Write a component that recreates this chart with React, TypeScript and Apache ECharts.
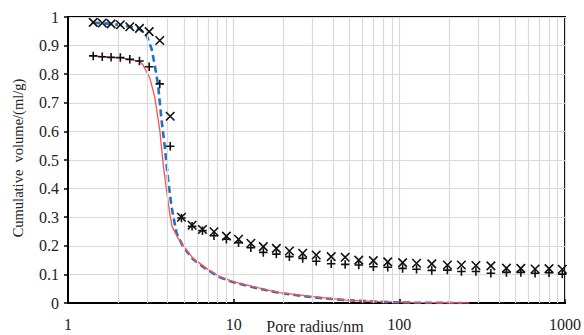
import React, { useEffect, useRef } from "react";
import * as echarts from "echarts";

// Pore radius (nm) at which the measured points were taken
const radii = [1.42, 1.61, 1.82, 2.07, 2.36, 2.70, 3.09, 3.58, 4.14, 4.84, 5.61, 6.48, 7.61, 9.04, 10.7, 12.7, 15.1, 18.1, 21.7, 26.1, 31.5, 38.8, 47.1, 56.9, 69.7, 85.1, 104.7, 127, 157, 195, 237, 290, 357, 443, 541, 660, 801, 963];
// "×" markers
const crossValues = [0.981, 0.979, 0.976, 0.973, 0.966, 0.960, 0.949, 0.918, 0.653, 0.300, 0.272, 0.257, 0.249, 0.234, 0.223, 0.209, 0.197, 0.191, 0.182, 0.174, 0.168, 0.162, 0.160, 0.150, 0.148, 0.144, 0.141, 0.139, 0.137, 0.133, 0.133, 0.131, 0.130, 0.122, 0.121, 0.119, 0.120, 0.118];
// "+" markers
const plusValues = [0.864, 0.861, 0.859, 0.858, 0.852, 0.846, 0.826, 0.766, 0.548, 0.297, 0.268, 0.253, 0.235, 0.223, 0.211, 0.193, 0.177, 0.171, 0.162, 0.156, 0.146, 0.137, 0.135, 0.133, 0.127, 0.125, 0.121, 0.118, 0.114, 0.115, 0.110, 0.110, 0.104, 0.107, 0.107, 0.104, 0.106, 0.101];

// Blue dashed curve
const blueX = [1.42, 1.61, 1.82, 2.07, 2.36, 2.70, 2.98, 3.19, 3.34, 3.50, 3.67, 3.84, 4.02, 4.21, 4.33, 4.52, 4.95, 5.69, 6.85, 8.24, 9.9, 13.1, 18.9, 30.0, 47.7, 75.8, 120, 240];
const blueY = [0.980, 0.978, 0.976, 0.972, 0.966, 0.958, 0.937, 0.890, 0.832, 0.760, 0.640, 0.547, 0.430, 0.340, 0.300, 0.245, 0.197, 0.153, 0.118, 0.090, 0.073, 0.055, 0.035, 0.020, 0.010, 0.004, 0.001, 0.0];

// Red solid curve
const redX = [1.42, 1.62, 1.83, 2.08, 2.36, 2.71, 2.84, 3.12, 3.34, 3.58, 3.75, 3.93, 4.11, 4.25, 4.62, 5.19, 5.69, 6.85, 8.24, 9.9, 13.1, 18.9, 30.0, 47.7, 75.8, 120, 264];
const redY = [0.864, 0.861, 0.859, 0.857, 0.852, 0.845, 0.832, 0.786, 0.720, 0.605, 0.488, 0.395, 0.314, 0.267, 0.226, 0.185, 0.156, 0.121, 0.092, 0.075, 0.057, 0.036, 0.022, 0.010, 0.005, 0.002, 0.0];

// Minor vertical grid positions on the log axis
const minorGrid = [2, 3, 4, 5, 6, 7, 8, 9, 20, 30, 40, 50, 60, 70, 80, 90, 200, 300, 400, 500, 600, 700, 800, 900];

const FONT = "'Liberation Serif', 'Times New Roman', 'DejaVu Serif', serif";

export default function App() {
  const ref = useRef<HTMLDivElement>(null);
  useEffect(() => {
    if (!ref.current) return;
    const chart = echarts.init(ref.current, null, { renderer: "svg" });
    const zip = (xs: number[], ys: number[]) => xs.map((x, i) => [x, ys[i]]);
    chart.setOption({
      animation: false,
      backgroundColor: "#fff",
      textStyle: { fontFamily: FONT },
      grid: {
        left: 68,
        right: 19,
        top: 17,
        bottom: 32,
        show: true,
        borderColor: "#000",
        borderWidth: 2,
        backgroundColor: "transparent",
      },
      xAxis: {
        type: "log",
        logBase: 10,
        min: 1,
        max: 1000,
        axisLine: { show: true, lineStyle: { color: "#000", width: 2 } },
        axisTick: { show: true, inside: true, length: 4, lineStyle: { color: "#000", width: 1.5 } },
        axisLabel: {
          color: "#222",
          fontFamily: FONT,
          fontSize: 16,
          margin: 13,
          formatter: (v: number) => String(Math.round(v)),
        },
        splitLine: { show: true, lineStyle: { color: "#d9d9d9", width: 1.2 } },
      },
      yAxis: {
        type: "value",
        min: 0,
        max: 1,
        interval: 0.1,
        axisLine: { show: true, lineStyle: { color: "#000", width: 2 } },
        axisTick: { show: true, inside: false, length: 4, lineStyle: { color: "#000", width: 1.5 } },
        axisLabel: {
          color: "#222",
          fontFamily: FONT,
          fontSize: 16,
          margin: 9,
          formatter: (v: number) => String(Math.round(v * 10) / 10),
        },
        splitLine: { show: true, lineStyle: { color: "#d9d9d9", width: 1.2 } },
      },
      graphic: [
        {
          type: "text",
          x: 18,
          y: 158,
          rotation: Math.PI / 2,
          style: {
            text: "Cumulative  volume/(ml/g)",
            fontFamily: FONT,
            fontSize: 14.5,
            fill: "#222",
            align: "center",
            verticalAlign: "middle",
          },
        },
        {
          type: "text",
          x: 315,
          y: 326,
          style: {
            text: "Pore radius/nm",
            fontFamily: FONT,
            fontSize: 16,
            fill: "#222",
            align: "center",
            verticalAlign: "middle",
          },
        },
      ],
      series: [
        {
          type: "scatter",
          data: [],
          silent: true,
          z: 1,
          markLine: {
            silent: true,
            symbol: ["none", "none"],
            label: { show: false },
            lineStyle: { color: "#d9d9d9", width: 1.2, type: "solid" },
            data: minorGrid.map((v) => ({ xAxis: v })),
          },
        },
        {
          type: "line",
          data: zip(blueX, blueY),
          showSymbol: false,
          symbol: "none",
          z: 3,
          lineStyle: { color: "#1f6fc5", width: 2.6, type: [7, 4] },
        },
        {
          type: "line",
          data: zip(redX, redY),
          showSymbol: false,
          symbol: "none",
          z: 4,
          lineStyle: { color: "#ff4f4f", width: 1.3 },
        },
        {
          type: "scatter",
          data: zip(radii, crossValues),
          symbol: "path://M0,0L10,10M10,0L0,10",
          symbolSize: 8.5,
          z: 5,
          itemStyle: { color: "transparent", borderColor: "#111", borderWidth: 1.6, opacity: 1 },
        },
        {
          type: "scatter",
          data: zip(radii, plusValues),
          symbol: "path://M5,0L5,10M0,5L10,5",
          symbolSize: 8.5,
          z: 5,
          itemStyle: { color: "transparent", borderColor: "#111", borderWidth: 1.6, opacity: 1 },
        },
      ],
    });
    return () => chart.dispose();
  }, []);
  return <div ref={ref} style={{ width: 584, height: 335, position: "absolute", left: 0, top: 0 }} />;
}
